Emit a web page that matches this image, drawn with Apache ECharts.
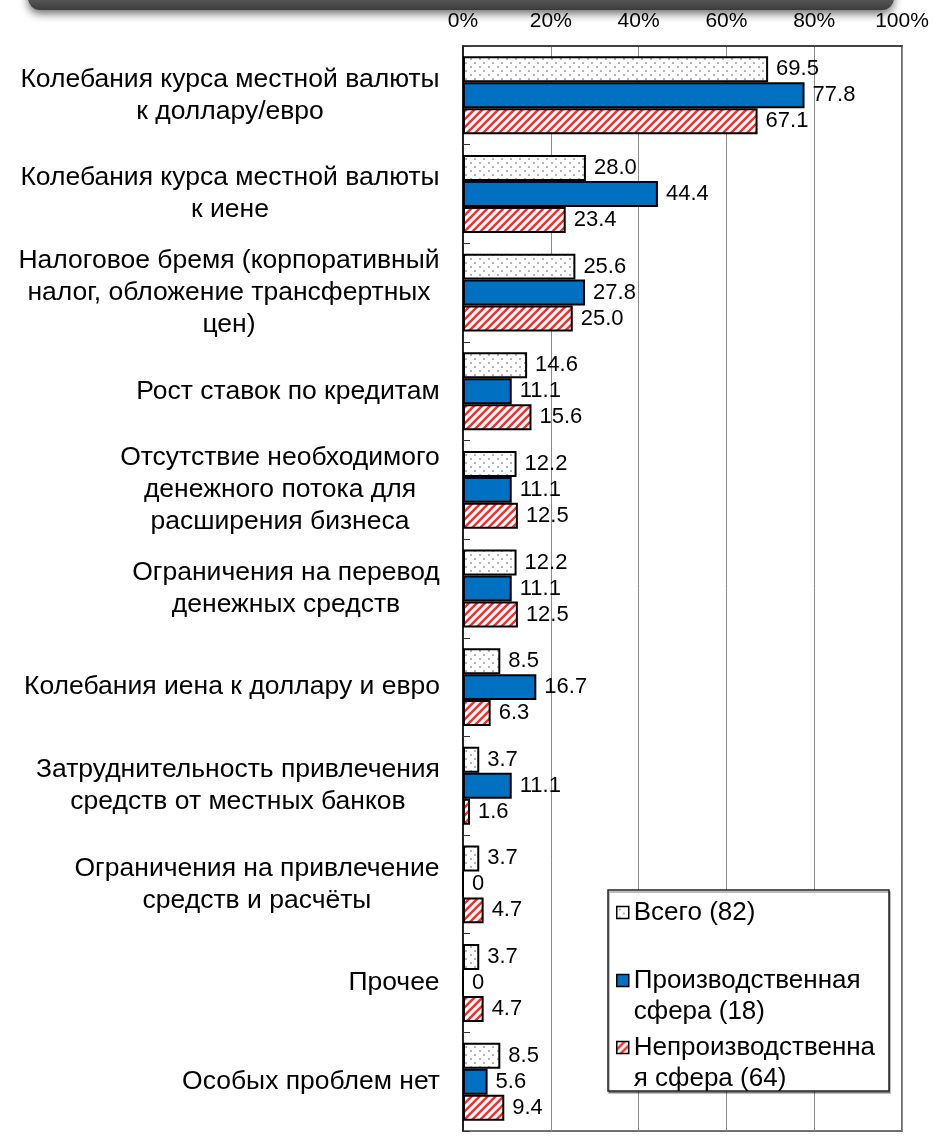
<!DOCTYPE html>
<html>
<head>
<meta charset="utf-8">
<script src="https://cdn.jsdelivr.net/npm/echarts@6/dist/echarts.min.js"></script>
<style>
html,body{margin:0;padding:0;background:#fff;}
#chart{width:933px;height:1139px;}
</style>
</head>
<body>
<div id="chart"></div>
<script>
const categories = [
  "Колебания курса местной валюты\nк доллару/евро",
  "Колебания курса местной валюты\nк иене",
  "Налоговое бремя (корпоративный\nналог, обложение трансфертных\nцен)",
  "Рост ставок по кредитам",
  "Отсутствие необходимого\nденежного потока для\nрасширения бизнеса",
  "Ограничения на перевод\nденежных средств",
  "Колебания иена к доллару и евро",
  "Затруднительность привлечения\nсредств от местных банков",
  "Ограничения на привлечение\nсредств и расчёты",
  "Прочее",
  "Особых проблем нет"
];
const seriesNames = ["Всего (82)", "Производственная сфера (18)", "Непроизводственная сфера (64)"];
const legendLabels = ["Всего (82)", "Производственная\nсфера (18)", "Непроизводственна\nя сфера (64)"];
const totalValues = [69.5, 28.0, 25.6, 14.6, 12.2, 12.2, 8.5, 3.7, 3.7, 3.7, 8.5];
const manufValues = [77.8, 44.4, 27.8, 11.1, 11.1, 11.1, 16.7, 11.1, 0, 0, 5.6];
const nonManufValues = [67.1, 23.4, 25.0, 15.6, 12.5, 12.5, 6.3, 1.6, 4.7, 4.7, 9.4];
const tickValues = [0, 20, 40, 60, 80, 100];

const FONT = '"Liberation Sans", Arial, sans-serif';
const NARROW = '"Liberation Sans Narrow", "Arial Narrow", "Liberation Sans", sans-serif';
const CAT_SIZE = 26.5;

// patterns
function dotPattern() {
  const c = document.createElement('canvas');
  c.width = 9; c.height = 8;
  const g = c.getContext('2d');
  g.fillStyle = '#ffffff'; g.fillRect(0, 0, 9, 8);
  g.fillStyle = '#b4b4b4';
  g.fillRect(2, 2, 2, 2);
  g.fillRect(6, 6, 2, 2);
  return c;
}
function stripePattern() {
  const s = 8;
  const c = document.createElement('canvas');
  c.width = s; c.height = s;
  const g = c.getContext('2d');
  g.fillStyle = '#ffffff'; g.fillRect(0, 0, s, s);
  g.strokeStyle = '#ff2a2a';
  g.lineWidth = 2.6;
  g.beginPath();
  for (let k = -1; k <= 1; k++) {
    g.moveTo(-2 + k * s, s + 2);
    g.lineTo(s + 2 + k * s, -2);
  }
  g.stroke();
  return c;
}

// category label rich styles: lines centered within a right-aligned block
const measureCtx = document.createElement('canvas').getContext('2d');
measureCtx.font = CAT_SIZE + 'px ' + FONT;
const catRich = {};
categories.forEach((cat, i) => {
  const w = Math.max(...cat.split('\n').map(l => measureCtx.measureText(l).width));
  catRich['c' + i] = { width: Math.ceil(w) + 2, align: 'center', fontSize: CAT_SIZE, lineHeight: 32, fontFamily: FONT, color: '#000' };
});

const chart = echarts.init(document.getElementById('chart'), null, { renderer: 'canvas' });

const barLabel = {
  show: true,
  position: 'right',
  distance: 8,
  color: '#000',
  fontSize: 22,
  fontFamily: NARROW,
  formatter: p => (p.value === 0 ? '0' : p.value.toFixed(1))
};

const styles = [
  { color: { image: dotPattern(), repeat: 'repeat' }, borderColor: '#000', borderWidth: 2 },
  { color: '#0070c0', borderColor: '#000', borderWidth: 2 },
  { color: { image: stripePattern(), repeat: 'repeat' }, borderColor: '#000', borderWidth: 2 }
];
const values = [totalValues, manufValues, nonManufValues];

// multi-line entries get a blank first line so the icon sits beside the first text line
const legendTops = [892, 929, 996];
const legends = seriesNames.map((name, i) => ({
  data: [name],
  left: 611,
  top: legendTops[i],
  orient: 'vertical',
  icon: 'rect',
  itemWidth: 12,
  itemHeight: 12,
  itemGap: 0,
  z: 6,
  selectedMode: false,
  formatter: () => (legendLabels[i].indexOf('\n') >= 0 ? '\u00a0\n' : '') + legendLabels[i],
  itemStyle: { borderColor: '#000', borderWidth: 1.5 },
  textStyle: {
    fontSize: 26,
    fontFamily: FONT,
    color: '#000',
    lineHeight: 31
  }
}));

chart.setOption({
  animation: false,
  backgroundColor: '#ffffff',
  grid: { left: 463, right: 31, top: 46, bottom: 8, show: true, borderColor: '#707070', borderWidth: 2, backgroundColor: 'transparent' },
  legend: legends,
  graphic: [
    {
      type: 'rect',
      shape: { x: 28, y: -30, width: 866, height: 40, r: 12 },
      style: {
        fill: { type: 'linear', x: 0, y: 0, x2: 0, y2: 1, colorStops: [{ offset: 0, color: '#9a9a9a' }, { offset: 0.7, color: '#5a5a5a' }, { offset: 1, color: '#3c3c3c' }] },
        shadowBlur: 8, shadowOffsetY: 4, shadowColor: 'rgba(0,0,0,0.55)'
      },
      z: 10
    },
    {
      type: 'rect',
      shape: { x: 608, y: 890, width: 281, height: 201 },
      style: { fill: '#ffffff', stroke: '#222', lineWidth: 1.5, shadowBlur: 0, shadowOffsetX: 1, shadowOffsetY: 2, shadowColor: 'rgba(0,0,0,0.35)' },
      z: 3
    }
  ],
  xAxis: {
    type: 'value',
    position: 'top',
    min: tickValues[0],
    max: tickValues[tickValues.length - 1],
    interval: 20,
    axisLine: { show: true, lineStyle: { color: '#333', width: 1.5 } },
    axisTick: { show: false },
    axisLabel: { formatter: '{value}%', fontSize: 21, fontFamily: NARROW, color: '#000', margin: 14 },
    splitLine: { show: true, lineStyle: { color: '#8a8a8a', width: 1 } }
  },
  yAxis: {
    type: 'category',
    inverse: true,
    data: categories,
    axisLine: { show: true, lineStyle: { color: '#000', width: 1.5 } },
    axisTick: { show: true, inside: true, length: 7, lineStyle: { color: '#333', width: 1 } },
    axisLabel: {
      margin: 22,
      formatter: (value, index) => value.split('\n').map(l => '{c' + index + '|' + l + '}').join('\n'),
      rich: catRich
    }
  },
  series: seriesNames.map((name, i) => ({
    name: name,
    type: 'bar',
    data: values[i],
    barGap: '0%',
    barCategoryGap: '21%',
    itemStyle: styles[i],
    label: barLabel,
    z: 2
  }))
});
</script>
</body>
</html>
